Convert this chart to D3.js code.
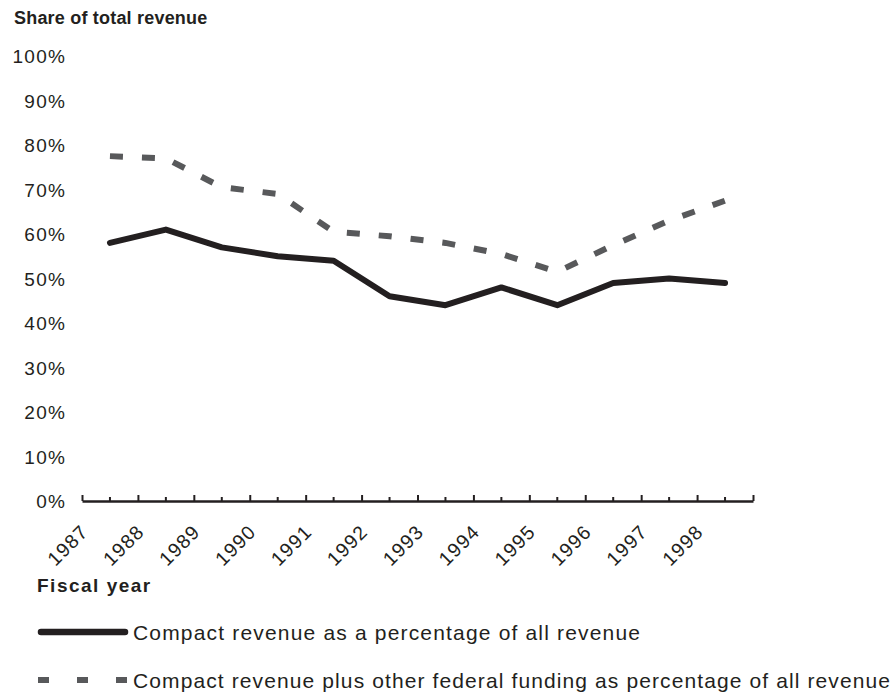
<!DOCTYPE html>
<html>
<head>
<meta charset="utf-8">
<script src="https://cdn.jsdelivr.net/npm/d3@7"></script>
<style>
  body { margin: 0; background: #fff; }
  text { font-family: "Liberation Sans", Arial, sans-serif; fill: #231f20; }
</style>
</head>
<body>
<script>
var years = ['1987', '1988', '1989', '1990', '1991', '1992', '1993', '1994', '1995', '1996', '1997', '1998'];
var compact = [58, 61, 57, 55, 54, 46, 44, 48, 44, 49, 50, 49];
var compactFederal = [77.5, 77, 70.5, 69, 60.5, 59.5, 58, 55.5, 51.5, 57.5, 63, 67.5];
var yTicks = [0, 10, 20, 30, 40, 50, 60, 70, 80, 90, 100];
var seriesNames = [
  'Compact revenue as a percentage of all revenue',
  'Compact revenue plus other federal funding as percentage of all revenue'
];

var w = 894;
var h = 694;

var svg = d3.select('body')
  .append('svg')
  .attr('width', w)
  .attr('height', h);

var xScale = d3.scaleBand()
  .domain(years)
  .range([82, 753]);

// boundaries between the years, for the long ticks and the labels
var xEdge = d3.scaleLinear()
  .domain([0, years.length])
  .range([82, 753]);

var yScale = d3.scaleLinear()
  .domain([0, 100])
  .range([501, 56]);

svg.append('text')
  .attr('x', 14)
  .attr('y', 24)
  .style('font-size', '18px')
  .style('font-weight', 'bold')
  .style('letter-spacing', '0.2px')
  .text('Share of total revenue');

// y labels only, no axis line
var yAxis = d3.axisLeft(yScale)
  .tickValues(yTicks)
  .tickSize(0)
  .tickPadding(0)
  .tickFormat(d => d + '%');

svg.append('g')
  .attr('class', 'y_axis')
  .attr('transform', 'translate(66,0)')
  .call(yAxis)
  .call(g => g.select('.domain').remove())
  .selectAll('text')
  .attr('dy', '0.35em')
  .style('font-size', '19px')
  .style('font-family', '"Liberation Sans", Arial, sans-serif')
  .style('letter-spacing', '1.2px')
  .style('fill', '#231f20');

// minor ticks at the year centres
var xMinor = d3.axisBottom(xScale)
  .tickSize(-4)
  .tickFormat('');

svg.append('g')
  .attr('class', 'x_minor')
  .attr('transform', 'translate(0,501)')
  .call(xMinor)
  .call(g => g.select('.domain').remove())
  .selectAll('line')
  .attr('stroke', '#231f20')
  .attr('stroke-width', 2);

// long ticks at the year edges, with the year labels
var xMajor = d3.axisBottom(xEdge)
  .tickValues(d3.range(years.length + 1))
  .tickSize(-6)
  .tickSizeOuter(0)
  .tickFormat(i => years[i] || '');

var gx = svg.append('g')
  .attr('class', 'x_axis')
  .attr('transform', 'translate(0,501)')
  .call(xMajor);

gx.select('.domain')
  .attr('stroke', '#231f20')
  .attr('stroke-width', 2.5);

gx.selectAll('line')
  .attr('stroke', '#231f20')
  .attr('stroke-width', 2);

gx.selectAll('text')
  .attr('y', 0)
  .attr('dy', 0)
  .attr('text-anchor', 'end')
  .attr('transform', 'translate(7,32) rotate(-45)')
  .style('font-size', '19.5px')
  .style('font-family', '"Liberation Sans", Arial, sans-serif')
  .style('letter-spacing', '1.2px')
  .style('fill', '#231f20');

svg.append('text')
  .attr('x', 37)
  .attr('y', 592)
  .style('font-size', '19px')
  .style('font-weight', 'bold')
  .style('letter-spacing', '1.5px')
  .text('Fiscal year');

var line = d3.line()
  .x((d, i) => xScale(years[i]) + xScale.bandwidth() / 2)
  .y(d => yScale(d));

svg.append('path')
  .datum(compactFederal)
  .attr('d', line)
  .attr('fill', 'none')
  .attr('stroke', '#58595b')
  .attr('stroke-width', 6)
  .attr('stroke-dasharray', '13,19');

svg.append('path')
  .datum(compact)
  .attr('d', line)
  .attr('fill', 'none')
  .attr('stroke', '#231f20')
  .attr('stroke-width', 6)
  .attr('stroke-linejoin', 'round')
  .attr('stroke-linecap', 'round');

// legend
var legend = svg.append('g').attr('class', 'legend');

legend.append('line')
  .attr('x1', 41).attr('x2', 125)
  .attr('y1', 632).attr('y2', 632)
  .attr('stroke', '#231f20')
  .attr('stroke-width', 6.5)
  .attr('stroke-linecap', 'round');

legend.append('line')
  .attr('x1', 38).attr('x2', 128)
  .attr('y1', 680).attr('y2', 680)
  .attr('stroke', '#58595b')
  .attr('stroke-width', 6)
  .attr('stroke-dasharray', '11,28');

legend.append('text')
  .attr('x', 133)
  .attr('y', 640)
  .style('font-size', '21px')
  .attr('textLength', 507)
  .attr('lengthAdjust', 'spacing')
  .text(seriesNames[0]);

legend.append('text')
  .attr('x', 133)
  .attr('y', 688)
  .style('font-size', '21px')
  .attr('textLength', 757)
  .attr('lengthAdjust', 'spacing')
  .text(seriesNames[1]);
</script>
</body>
</html>
